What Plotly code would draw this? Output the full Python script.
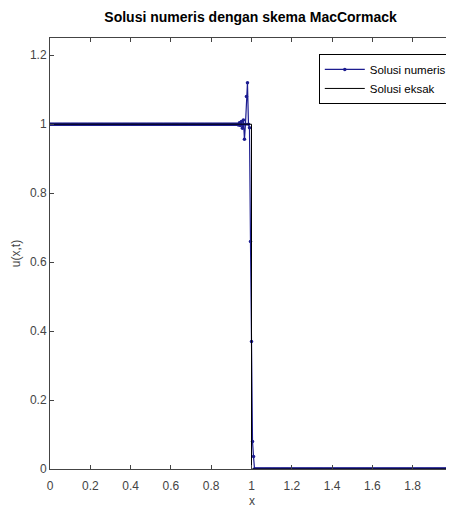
import plotly.graph_objects as go

# Numerical solution (MacCormack), dx = 0.005
x_left = [round(0.005 * i, 3) for i in range(0, 186)]          # 0 .. 0.925
u_left = [1.0] * len(x_left)
x_shock = [0.930, 0.935, 0.940, 0.945, 0.950, 0.955, 0.960, 0.965, 0.970,
           0.975, 0.980, 0.985, 0.990, 0.995, 1.000, 1.005, 1.010]
u_shock = [1.0, 0.998, 1.004, 0.996, 1.008, 0.988, 1.012, 0.956, 1.0,
           1.08, 1.12, 1.0, 0.99, 0.66, 0.37, 0.08, 0.036]
x_right = [round(1.015 + 0.005 * i, 3) for i in range(0, 198)]  # 1.015 .. 2.0
u_right = [0.0] * len(x_right)
x_num = x_left + x_shock + x_right
u_num = u_left + u_shock + u_right

# Exact solution: step at x = 1
x_exact = [0.0, 1.0, 1.0, 2.0]
u_exact = [1.0, 1.0, 0.0, 0.0]

x_ticks = [0, 0.2, 0.4, 0.6, 0.8, 1, 1.2, 1.4, 1.6, 1.8, 2]
x_ticklabels = ["0", "0.2", "0.4", "0.6", "0.8", "1", "1.2", "1.4", "1.6", "1.8", "2"]
y_ticks = [0, 0.2, 0.4, 0.6, 0.8, 1, 1.2]
y_ticklabels = ["0", "0.2", "0.4", "0.6", "0.8", "1", "1.2"]

blue = "#1c1c90"
FONT = "Liberation Sans, Arial"

fig = go.Figure()
fig.add_trace(go.Scatter(
    x=x_num, y=u_num, mode="lines+markers", name="Solusi numeris",
    line=dict(color=blue, width=1.2),
    marker=dict(color=blue, size=3.5),
))
fig.add_trace(go.Scatter(
    x=x_exact, y=u_exact, mode="lines", name="Solusi eksak",
    line=dict(color="black", width=1),
))

axis_common = dict(
    showgrid=False, zeroline=False, showline=True, linecolor="#444",
    linewidth=1, mirror="ticks", ticks="inside", ticklen=4, tickcolor="#444",
    tickfont=dict(family=FONT, size=12, color="#444"),
    automargin=False, ticklabeloverflow="allow",
)

fig.update_layout(
    width=446, height=501,
    margin=dict(l=42, r=1, t=30, b=40),
    paper_bgcolor="white", plot_bgcolor="white",
    title=dict(text="<b>Solusi numeris dengan skema MacCormack</b>",
               x=0.544, xanchor="center", y=0.982, yanchor="middle",
               font=dict(family=FONT, size=14, color="black")),
    xaxis=dict(range=[0, 2], tickvals=x_ticks, ticktext=x_ticklabels,
               ticklabelstandoff=6, **axis_common),
    yaxis=dict(range=[0, 1.25], tickvals=y_ticks, ticktext=y_ticklabels,
               title=dict(text="u(x,t)", standoff=6,
                          font=dict(family=FONT, size=12, color="#444")),
               **axis_common),
    legend=dict(x=0.997, y=0.963, xanchor="right", yanchor="top",
                bgcolor="white", bordercolor="black", borderwidth=1,
                font=dict(family=FONT, size=11.5, color="black"),
                tracegroupgap=0, itemwidth=40),
    showlegend=True,
    annotations=[dict(text="x", xref="paper", yref="paper", x=0.5, y=0,
                      xanchor="center", yanchor="middle", yshift=-32,
                      showarrow=False,
                      font=dict(family=FONT, size=12, color="#444"))],
)

fig.write_html("out.html")
